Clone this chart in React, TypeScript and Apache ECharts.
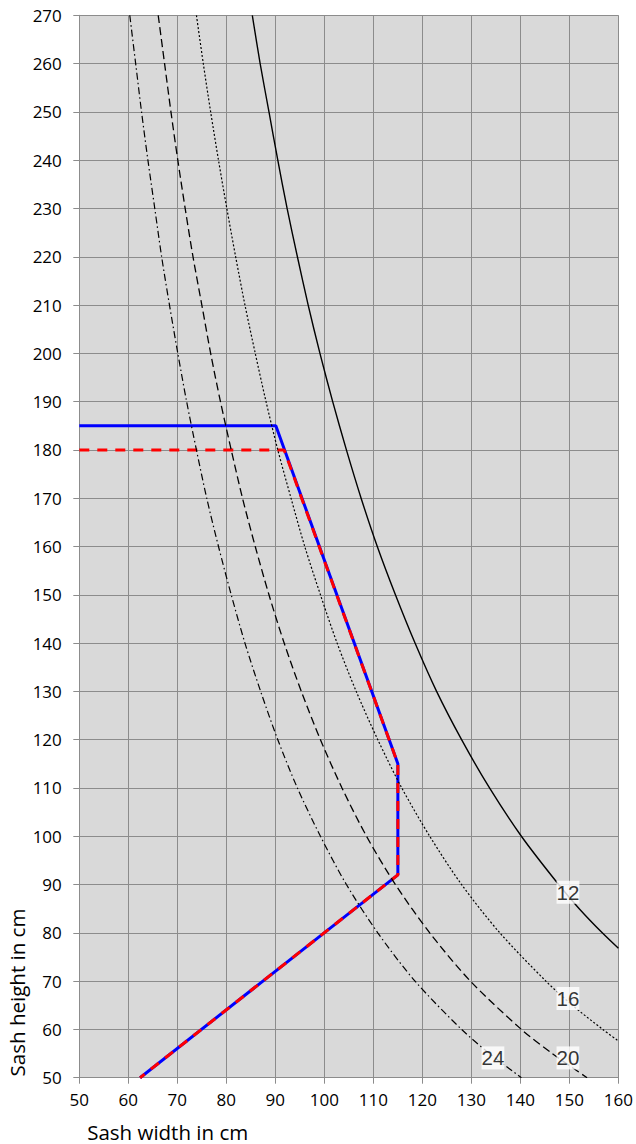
import React, { useEffect, useRef } from "react";
import * as echarts from "echarts";

// x = sash width (cm), y = sash height (cm)
const xTicks = { min: 50, max: 160, interval: 10 };
const yTicks = { min: 50, max: 270, interval: 10 };

// points: [width, height]
const curve12: [number, number][] = [
  [85.3, 270], [86.9, 260], [88.7, 250], [90.5, 240], [92.4, 230], [94.5, 220],
  [96.7, 210], [99.1, 200], [101.7, 190], [104.5, 180], [107.5, 170], [110.8, 160],
  [114.5, 150], [118.5, 140], [122.9, 130], [128.0, 120], [133.7, 110], [140.2, 100],
  [147.8, 90], [152.0, 85], [156.7, 80], [160, 76.8],
];
const curve16: [number, number][] = [
  [73.9, 270], [75.3, 260], [76.8, 250], [78.4, 240], [80.1, 230], [81.9, 220],
  [83.8, 210], [85.9, 200], [88.1, 190], [90.5, 180], [93.2, 170], [96.0, 160],
  [99.2, 150], [102.6, 140], [106.5, 130], [110.9, 120], [115.8, 110], [121.5, 100],
  [128.0, 90], [135.8, 80], [145.2, 70], [150.6, 65], [156.8, 60], [160, 57.6],
];
const curve20: [number, number][] = [
  [66.1, 270], [67.4, 260], [68.7, 250], [70.1, 240], [71.6, 230], [73.2, 220],
  [75.0, 210], [76.8, 200], [78.8, 190], [81.0, 180], [83.3, 170], [85.9, 160],
  [88.7, 150], [91.8, 140], [95.3, 130], [99.2, 120], [103.6, 110], [108.6, 100],
  [114.5, 90], [121.5, 80], [129.8, 70], [140.2, 60], [146.5, 55], [153.6, 50],
];
const curve24: [number, number][] = [
  [60.3, 270], [61.5, 260], [62.7, 250], [64.0, 240], [65.4, 230], [66.8, 220],
  [68.4, 210], [70.1, 200], [71.9, 190], [73.9, 180], [76.0, 170], [78.4, 160],
  [81.0, 150], [83.8, 140], [87.0, 130], [90.5, 120], [94.5, 110], [99.2, 100],
  [104.5, 90], [110.9, 80], [118.5, 70], [128.0, 60], [133.7, 55], [140.2, 50],
];
const blueLine: [number, number][] = [[50, 185], [90.1, 185], [115, 115], [115, 92], [62.4, 50]];
const redLine: [number, number][] = [[50, 180], [91.8, 180], [115, 115], [115, 92], [62.4, 50]];
const curveLabels: [number, number, string][] = [
  [149.7, 88.4, "12"],
  [149.7, 66.4, "16"],
  [149.7, 54.1, "20"],
  [134.4, 54.1, "24"],
];

const GRID = "#8c8c8c";
const FONT = "'Open Sans', 'Noto Sans', sans-serif";

export default function App() {
  const ref = useRef<HTMLDivElement>(null);
  useEffect(() => {
    document.body.style.margin = "0";
    if (!ref.current) return;
    const chart = echarts.init(ref.current, null, { renderer: "svg" });
    const curve = (data: [number, number][], type: any, width: number) => ({
      type: "line",
      data,
      symbol: "none",
      smooth: 0.3,
      lineStyle: { color: "#000", width, type },
      z: 3,
    });
    chart.setOption({
      animation: false,
      backgroundColor: "#ffffff",
      grid: { left: 79.3, top: 15.3, width: 539.4, height: 1062.4, show: true, backgroundColor: "#d9d9d9", borderWidth: 0 },
      xAxis: {
        type: "value",
        min: xTicks.min,
        max: xTicks.max,
        interval: xTicks.interval,
        axisLine: { show: true, lineStyle: { color: GRID, width: 1 } },
        axisTick: { show: true, length: 6, lineStyle: { color: GRID } },
        splitLine: { show: true, lineStyle: { color: GRID, width: 1 } },
        axisLabel: { color: "#000", fontSize: 17, fontFamily: FONT, margin: 13 },
      },
      yAxis: {
        type: "value",
        min: yTicks.min,
        max: yTicks.max,
        interval: yTicks.interval,
        axisLine: { show: true, lineStyle: { color: GRID, width: 1 } },
        axisTick: { show: true, length: 6, lineStyle: { color: GRID } },
        splitLine: { show: true, lineStyle: { color: GRID, width: 1 } },
        axisLabel: { color: "#000", fontSize: 17, fontFamily: FONT, margin: 17.5 },
      },
      series: [
        { type: "line", data: blueLine, symbol: "none", lineStyle: { color: "#0000ff", width: 3 }, z: 2 },
        { type: "line", data: redLine, symbol: "none", lineStyle: { color: "#ff0000", width: 3, type: [10, 8] }, z: 2 },
        curve(curve12, "solid", 1.4),
        curve(curve16, [2, 2], 1.2),
        curve(curve20, [8, 4], 1.3),
        curve(curve24, [7, 3, 1.5, 3], 1.2),
        {
          type: "scatter",
          data: curveLabels,
          symbolSize: 0,
          z: 5,
          label: {
            show: true,
            position: "inside",
            formatter: (p: any) => p.value[2],
            color: "#000",
            fontSize: 20.5,
            fontFamily: "'Liberation Sans', Arial, sans-serif",
            backgroundColor: "#ffffff",
            padding: [1, 0, 0, 0],
            lineHeight: 22,
          },
        },
      ],
      graphic: [
        {
          type: "text",
          x: 167.7,
          y: 1131.5,
          style: { text: "Sash width in cm", font: `20.5px ${FONT}`, fill: "#000", textAlign: "center", textVerticalAlign: "middle", lineHeight: 20 },
        },
        {
          type: "text",
          x: 17,
          y: 992.5,
          rotation: Math.PI / 2,
          style: { text: "Sash height in cm", font: `20.5px ${FONT}`, fill: "#000", textAlign: "center", textVerticalAlign: "middle" },
        },
      ],
    });
    return () => chart.dispose();
  }, []);
  return <div ref={ref} style={{ width: 636, height: 1144 }} />;
}
